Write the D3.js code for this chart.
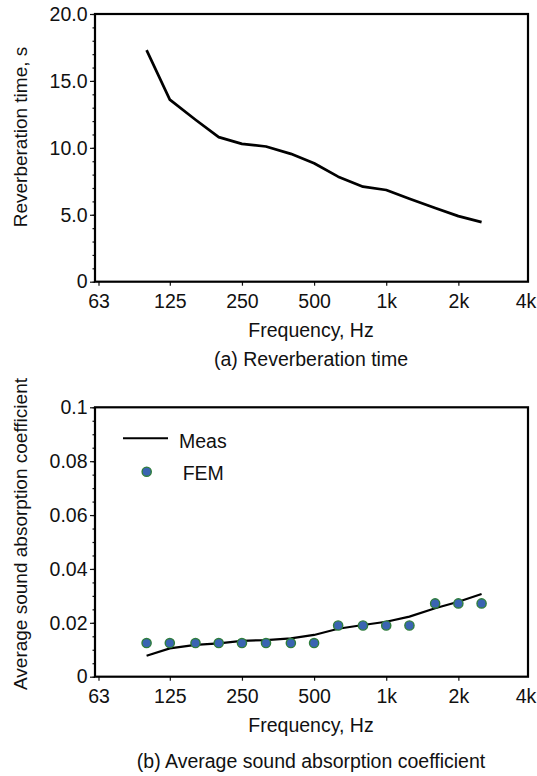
<!DOCTYPE html>
<html>
<head>
<meta charset="utf-8">
<script src="https://cdn.jsdelivr.net/npm/d3@7"></script>
<style>
  html, body { margin: 0; padding: 0; background: #fff; }
  svg { display: block; }
  text { font-family: "Liberation Sans", Arial, sans-serif; fill: #111; }
</style>
</head>
<body>
<svg id="chart" width="537" height="776"></svg>
<script>
// ---- data ----
const freqs = [100, 125, 160, 200, 250, 315, 400, 500, 630, 800, 1000, 1250, 1600, 2000, 2500];
const reverbTime = [17.3, 13.6, 12.1, 10.8, 10.3, 10.1, 9.55, 8.85, 7.85, 7.1, 6.85, 6.2, 5.5, 4.9, 4.45];
const absorbMeas = [0.0078, 0.0105, 0.0118, 0.0124, 0.0133, 0.0136, 0.0142, 0.0155, 0.0178, 0.0192, 0.0204, 0.0223, 0.0254, 0.0278, 0.0307];
const absorbFEM = [0.0125, 0.0125, 0.0125, 0.0125, 0.0125, 0.0125, 0.0125, 0.0125, 0.019, 0.019, 0.019, 0.019, 0.0272, 0.0272, 0.0272];
const xTickValues = [63, 125, 250, 500, 1000, 2000, 4000];
const xTickLabels = ["63", "125", "250", "500", "1k", "2k", "4k"];
const yTicksTop = [0, 5, 10, 15, 20];
const yTickLabelsTop = ["0", "5.0", "10.0", "15.0", "20.0"];
const yTicksBottom = [0, 0.02, 0.04, 0.06, 0.08, 0.1];
const yTickLabelsBottom = ["0", "0.02", "0.04", "0.06", "0.08", "0.1"];
const legendLabels = ["Meas", "FEM"];

const svg = d3.select("#chart");
const FS = 19.5;      // horizontal text
const FSR = 19;       // rotated axis titles
const left = 95, right = 528;

const x = d3.scaleLog().base(2).domain([63, 4000]).range([98.5, 530.5]);

function panel(cfg) {
  const g = svg.append("g");
  const y = d3.scaleLinear().domain(cfg.yDomain).range([cfg.bottom, cfg.top]);

  // minor y ticks
  g.append("g")
    .attr("transform", `translate(${left},0)`)
    .call(d3.axisLeft(y).tickValues(cfg.minor).tickSize(2.5).tickFormat(""))
    .call(s => s.select(".domain").remove())
    .call(s => s.selectAll("line").attr("stroke", "#111").attr("stroke-width", 1.2));

  // major y ticks
  g.append("g")
    .attr("transform", `translate(${left},0)`)
    .call(d3.axisLeft(y).tickValues(cfg.yTicks).tickSize(5).tickPadding(2.5)
      .tickFormat((d, i) => cfg.yLabels[i]))
    .call(s => s.select(".domain").remove())
    .call(s => s.selectAll("line").attr("stroke", "#111").attr("stroke-width", 1.2))
    .call(s => s.selectAll("text").attr("font-size", FS).attr("font-family", "Liberation Sans, Arial, sans-serif").attr("fill", "#111"));

  // x ticks
  g.append("g")
    .attr("transform", `translate(0,${cfg.bottom})`)
    .call(d3.axisBottom(x).tickValues(xTickValues).tickSize(4).tickPadding(8.8)
      .tickFormat((d, i) => xTickLabels[i]))
    .call(s => s.select(".domain").remove())
    .call(s => s.selectAll("line").attr("stroke", "#111").attr("stroke-width", 1.2)
      .filter(d => x(d) > right).remove())
    .call(s => s.selectAll("text").attr("font-size", FS).attr("font-family", "Liberation Sans, Arial, sans-serif").attr("fill", "#111")
      .filter(d => d === 4000).attr("dx", -5));

  // frame
  g.append("rect")
    .attr("x", left).attr("y", cfg.top)
    .attr("width", right - left).attr("height", cfg.bottom - cfg.top)
    .attr("fill", "none").attr("stroke", "#000").attr("stroke-width", 2.2);

  // y title
  g.append("text")
    .attr("transform", `translate(27,${cfg.yTitleY}) rotate(-90)`)
    .attr("text-anchor", "middle")
    .attr("font-size", FSR)
    .text(cfg.yTitle);

  // x title
  g.append("text")
    .attr("x", 311).attr("y", cfg.bottom + 55)
    .attr("text-anchor", "middle").attr("font-size", FS)
    .text("Frequency, Hz");

  // caption
  g.append("text")
    .attr("x", 311).attr("y", cfg.bottom + cfg.captionOffset)
    .attr("text-anchor", "middle").attr("font-size", FS)
    .text(cfg.caption);

  return {g, y};
}

// ---- panel (a) ----
const pa = panel({
  top: 14, bottom: 281.7, yDomain: [0, 20],
  yTicks: yTicksTop, yLabels: yTickLabelsTop,
  minor: d3.range(0, 20.01, 1),
  yTitle: "Reverberation time, s", yTitleY: 137,
  caption: "(a) Reverberation time", captionOffset: 84
});
pa.g.append("path")
  .datum(freqs.map((f, i) => [f, reverbTime[i]]))
  .attr("fill", "none").attr("stroke", "#000").attr("stroke-width", 2.7)
  .attr("stroke-linejoin", "round")
  .attr("d", d3.line().x(d => x(d[0])).y(d => pa.y(d[1])));

// ---- panel (b) ----
const pb = panel({
  top: 407.3, bottom: 676.7, yDomain: [0, 0.1],
  yTicks: yTicksBottom, yLabels: yTickLabelsBottom,
  minor: d3.range(0, 0.1001, 0.005),
  yTitle: "Average sound absorption coefficient", yTitleY: 534,
  caption: "(b) Average sound absorption coefficient", captionOffset: 91
});
pb.g.append("path")
  .datum(freqs.map((f, i) => [f, absorbMeas[i]]))
  .attr("fill", "none").attr("stroke", "#000").attr("stroke-width", 2.2)
  .attr("d", d3.line().x(d => x(d[0])).y(d => pb.y(d[1])));

const markerFill = "#3a64b2", markerStroke = "#2f7d3c";
pb.g.append("g").selectAll("circle")
  .data(freqs.map((f, i) => [f, absorbFEM[i]]))
  .join("circle")
  .attr("cx", d => x(d[0])).attr("cy", d => pb.y(d[1]))
  .attr("r", 4.6)
  .attr("fill", markerFill).attr("stroke", markerStroke).attr("stroke-width", 1.4);

// legend
const lg = pb.g.append("g");
lg.append("line").attr("x1", 123).attr("x2", 168).attr("y1", 438.3).attr("y2", 438.3)
  .attr("stroke", "#000").attr("stroke-width", 2);
lg.append("text").attr("x", 179).attr("y", 448.3).attr("font-size", FS).text(legendLabels[0]);
lg.append("circle").attr("cx", 146.7).attr("cy", 471.7).attr("r", 4.6)
  .attr("fill", markerFill).attr("stroke", markerStroke).attr("stroke-width", 1.4);
lg.append("text").attr("x", 182.7).attr("y", 480).attr("font-size", FS).text(legendLabels[1]);
</script>
</body>
</html>
